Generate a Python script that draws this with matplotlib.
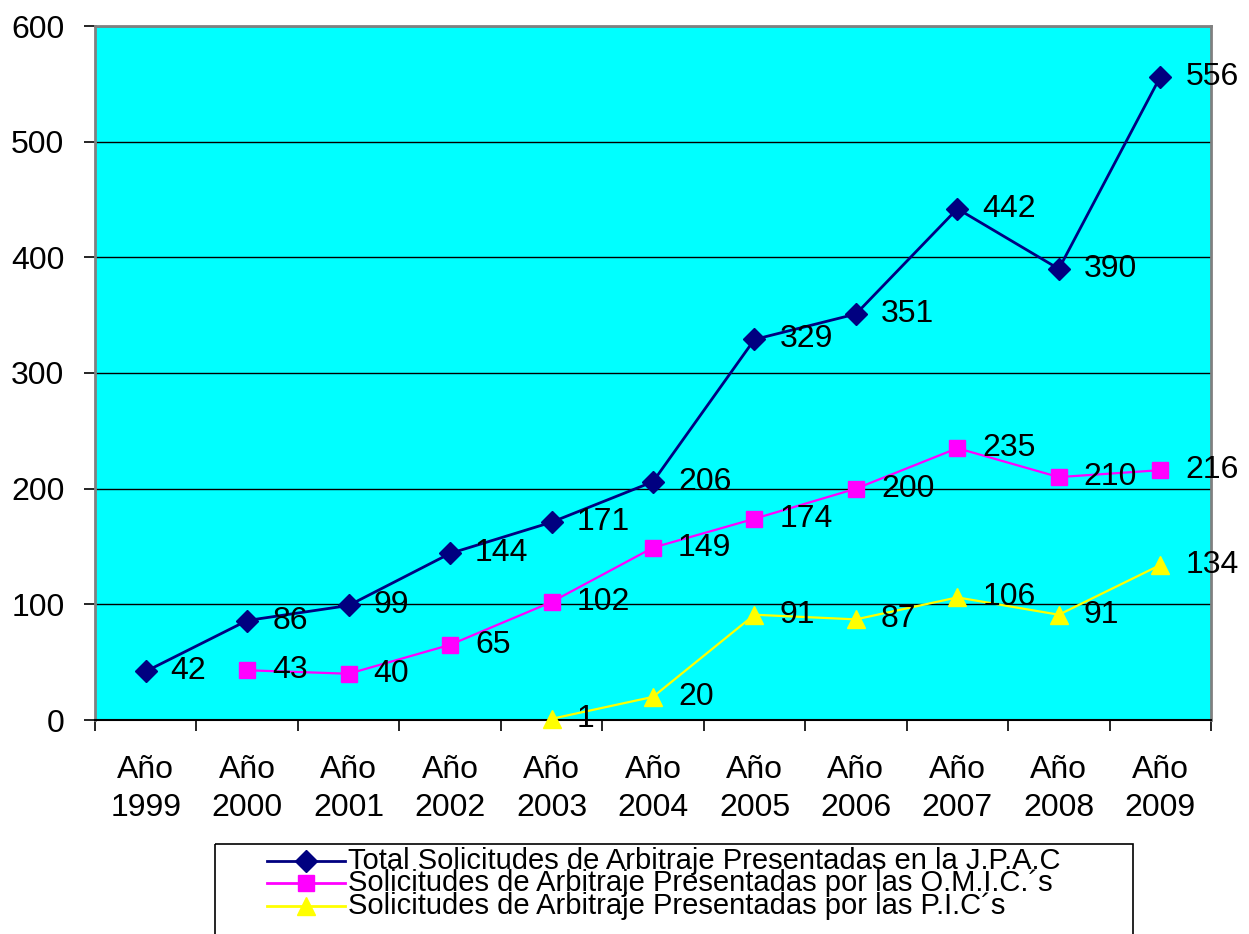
import numpy as np
import matplotlib
matplotlib.use('Agg')
import matplotlib.pyplot as plt
from matplotlib.patches import Rectangle

plt.rcParams['font.family'] = ['Liberation Sans', 'DejaVu Sans']

years = ['1999', '2000', '2001', '2002', '2003', '2004',
         '2005', '2006', '2007', '2008', '2009']
total = [42, 86, 99, 144, 171, 206, 329, 351, 442, 390, 556]
omic = [None, 43, 40, 65, 102, 149, 174, 200, 235, 210, 216]
pic = [None, None, None, None, 1, 20, 91, 87, 106, 91, 134]

labels = ['Total Solicitudes de Arbitraje Presentadas en la J.P.A.C',
          'Solicitudes de Arbitraje Presentadas por las O.M.I.C.\u00b4s',
          'Solicitudes de Arbitraje Presentadas por las P.I.C\u00b4s']
colors = ['#000080', '#FF00FF', '#FFFF00']
markers = ['D', 's', '^']
msizes = [11, 11, 13]
lwidths = [2.0, 1.6, 1.6]

W, H = 1249, 934
fig = plt.figure(figsize=(W / 100, H / 100), dpi=100)
ax = fig.add_axes([95 / W, (H - 720) / H, (1211 - 95) / W, (720 - 26) / H])
ax.set_facecolor('#00FFFF')

x = np.arange(len(years))
for series, c, m, ms, lw in zip([total, omic, pic], colors, markers, msizes, lwidths):
    xs = [i for i, v in zip(x, series) if v is not None]
    ys = [v for v in series if v is not None]
    ax.plot(xs, ys, color=c, lw=lw, marker=m, ms=ms, mec=c, mfc=c,
            clip_on=False, zorder=3)
    for xi, yi in zip(xs, ys):
        ax.annotate(str(yi), (xi, yi), xytext=(18, 0), textcoords='offset points',
                    va='center', ha='left', fontsize=23, zorder=4,
                    annotation_clip=False)

ax.set_xlim(-0.5, len(years) - 0.5)
ax.set_ylim(0, 600)
ax.set_yticks(range(0, 601, 100))
ax.yaxis.grid(True, color='black', lw=1)
ax.set_axisbelow(True)

# boundaries between categories get the tick marks, labels sit in between
ax.set_xticks(np.arange(-0.5, len(years), 1.0))
ax.set_xticklabels([])
ax.set_xticks(x, minor=True)
ax.set_xticklabels(['A\u00f1o\n' + y for y in years], minor=True, linespacing=1.35)
ax.tick_params(axis='x', which='major', length=8, width=1.2, color='black')
ax.tick_params(axis='x', which='minor', length=0, pad=25, labelsize=23)
ax.tick_params(axis='y', length=8, width=1.2, color='black', pad=14, labelsize=23)

for side in ['left', 'top', 'right']:
    ax.spines[side].set_color('#808080')
    ax.spines[side].set_linewidth(2)
ax.spines['bottom'].set_color('black')
ax.spines['bottom'].set_linewidth(1.5)

# legend box, drawn in pixel units
lax = fig.add_axes([0, 0, 1, 1], facecolor='none')
lax.set_xlim(0, W)
lax.set_ylim(H, 0)
lax.axis('off')
lax.add_patch(Rectangle((215, 844), 1133 - 215, 120, fill=False,
                        edgecolor='black', lw=1.2))
rows = [861, 883, 906]
for yy, lab, c, m, ms in zip(rows, labels, colors, markers, msizes):
    lax.plot([267, 306, 345], [yy, yy, yy], color=c, lw=2, marker=m,
             ms=ms, markevery=[1], mec=c, mfc=c)
    lax.text(348, yy, lab, va='center', ha='left', fontsize=21)

fig.savefig('out.png', dpi=100)
